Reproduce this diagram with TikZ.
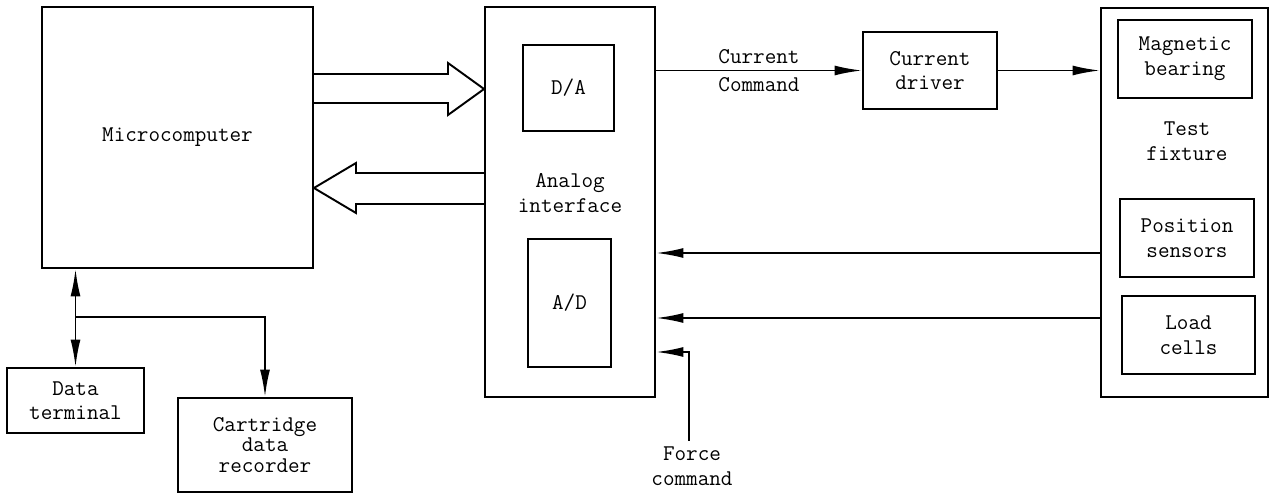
\documentclass[tikz,border=0pt]{standalone}
\usetikzlibrary{arrows.meta}

\begin{document}
\begin{tikzpicture}[x=0.02cm, y=-0.02cm]
\tikzstyle{every node}=[font=\fontsize{12.8}{14}\selectfont\ttfamily]
\tikzstyle{blk}=[draw, line width=1.1pt, inner sep=0pt, align=center]
\tikzstyle{wire}=[line width=1.1pt]
\tikzstyle{sig}=[-{Latex[length=5.5mm, width=2mm]}]
\tikzstyle{dsig}=[{Latex[length=5.5mm, width=2mm]}-{Latex[length=5.5mm, width=2mm]}]
\tikzstyle{bus}=[line width=1.1pt, line join=miter]

\useasboundingbox (0,0) rectangle (1272,496);

\node[blk, minimum width=5.42cm, minimum height=5.22cm] (mc) at (177.5,137.5) {Microcomputer};
\node[blk, minimum width=2.74cm, minimum height=1.3cm] (dt) at (75.5,400.5) {Data\\terminal};
\node[blk, minimum width=3.48cm, minimum height=1.88cm, font=\fontsize{12.8}{11.5}\selectfont\ttfamily] (cr) at (265,445) {Cartridge\\data\\recorder};

\node[blk, minimum width=3.4cm, minimum height=7.8cm] (ai) at (570,202) {};
    \node[align=center] (ailbl) at (570,193) {Analog\\interface};
\node[blk, minimum width=1.82cm, minimum height=1.72cm] (da) at (568.5,88) {D/A};
\node[blk, minimum width=1.66cm, minimum height=2.56cm] (ad) at (569.5,303) {A/D};

\node[blk, minimum width=2.68cm, minimum height=1.54cm] (cd) at (930,70.5) {Current\\driver};

\node[blk, minimum width=3.34cm, minimum height=7.78cm] (tf) at (1184.5,202.5) {};
    \node[align=center] (tflbl) at (1187,141) {Test\\fixture};
\node[blk, minimum width=2.68cm, minimum height=1.56cm] (mb) at (1185,59) {Magnetic\\bearing};
\node[blk, minimum width=2.68cm, minimum height=1.56cm] (ps) at (1187,238) {Position\\sensors};
\node[blk, minimum width=2.66cm, minimum height=1.56cm] (lc) at (1188.5,335) {Load\\cells};

\node[align=center] (fc) at (692,466) {Force\\command};

% data bus
\draw[bus] (mc.east |- 0,74) -- (448,74) -- (448,63) -- (ai.west |- 0,89)
    -- (448,115) -- (448,103) -- (mc.east |- 0,103);
\draw[bus] (ai.west |- 0,173) -- (356,173) -- (356,163) -- (mc.east |- 0,188)
    -- (356,213) -- (356,204) -- (ai.west |- 0,204);

% terminal and recorder
\draw[wire, dsig] (mc.south -| dt.north) -- (dt.north);
\coordinate (jn) at (dt.north |- 0,317);
\draw[wire, sig] (jn) -| (cr.north);

% current loop
\draw[wire, sig] (ai.east |- cd) -- (cd.west)
    node[midway, above] (cclbl) {Current}
    node[midway, below] (cclbl2) {Command};
\draw[wire, sig] (cd.east) -- (cd.east -| tf.west);

% feedback
\draw[wire, sig] (tf.west |- 0,253) -- (ai.east |- 0,253); % sensors
\draw[wire, sig] (tf.west |- 0,318) -- (ai.east |- 0,318); % load cells
\draw[wire, sig] (fc.north -| 689,0) |- (ai.east |- 0,352); % force

\end{tikzpicture}
\end{document}
